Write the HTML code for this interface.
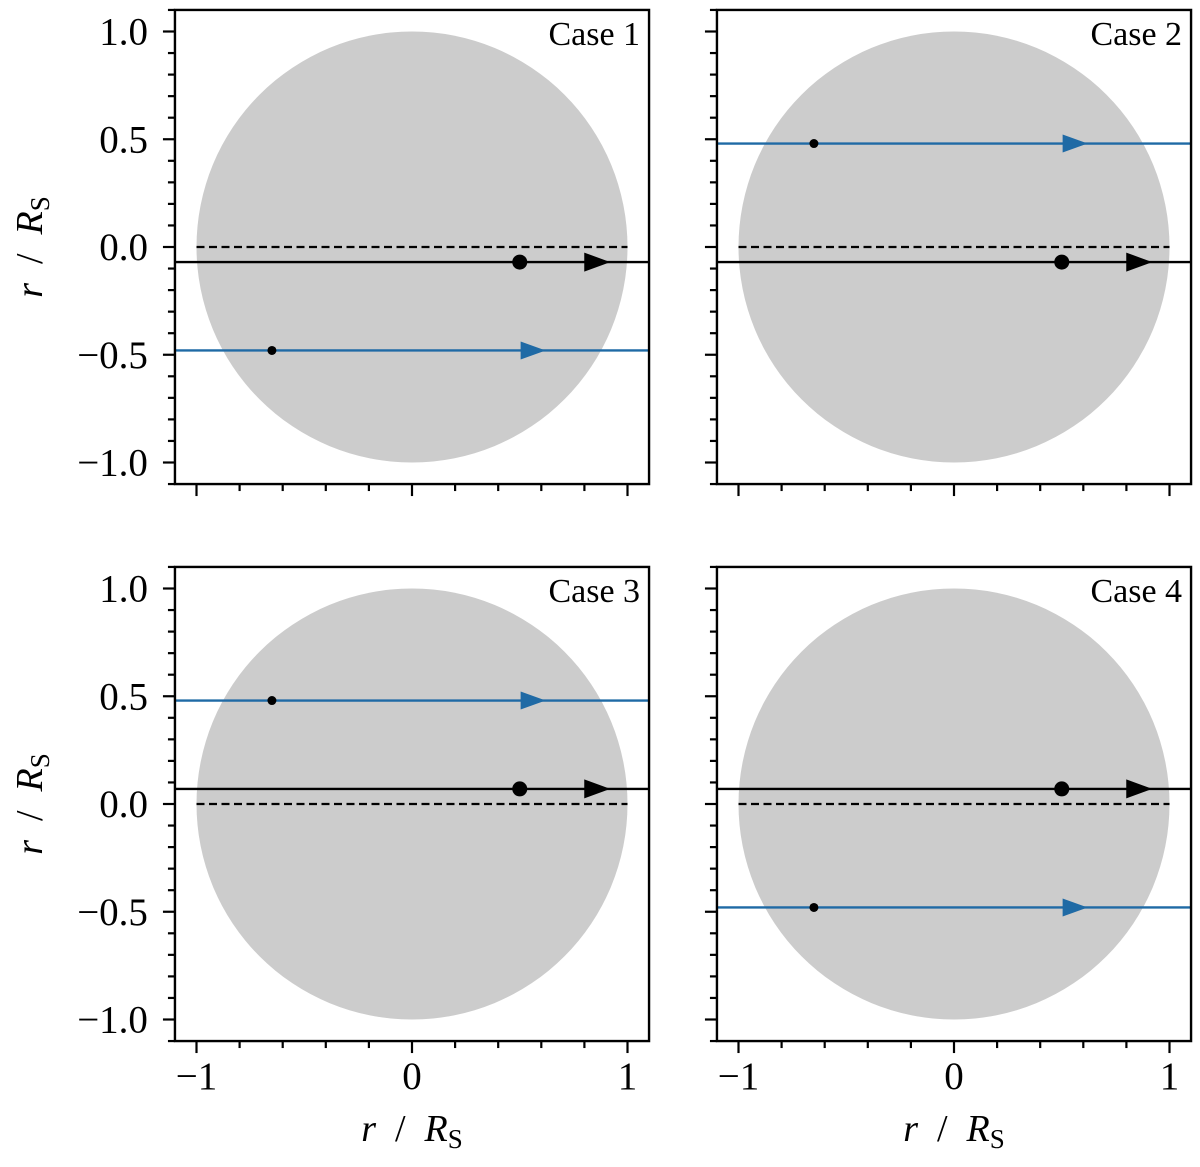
<!DOCTYPE html>
<html><head><meta charset="utf-8"><style>body{margin:0;background:#fff}svg text{font-family:"Liberation Serif",serif;fill:#000}</style></head>
<body>
<svg id="fig" width="1200" height="1162" xmlns="http://www.w3.org/2000/svg"></svg>
<script>
const caseLabels=["Case 1","Case 2","Case 3","Case 4"];
const blackY=[-0.07,-0.07,0.07,0.07];
const blueY=[-0.48,0.48,0.48,-0.48];
const blackDotX=[0.5,0.5,0.5,0.5];
const blueDotX=[-0.65,-0.65,-0.65,-0.65];
const blackArrowX=[0.92,0.92,0.92,0.92];
const blueArrowX=[0.62,0.62,0.62,0.62];
const xTicks=[-1,0,1];
const xTickLabels=["\u22121","0","1"];
const yTicks=[1,0.5,0,-0.5,-1];
const yTickLabels=["1.0","0.5","0.0","\u22120.5","\u22121.0"];
const NS="http://www.w3.org/2000/svg";
const svg=document.getElementById('fig');
function mk(t,a,p){const e=document.createElementNS(NS,t);for(const k in a)e.setAttribute(k,a[k]);(p||svg).appendChild(e);return e;}
const S=215.5;
const origins=[[412,247],[954,247],[412,804],[954,804]];
for(let i=0;i<4;i++){
 const [ox,oy]=origins[i];
 const X=v=>ox+v*S, Y=v=>oy-v*S;
 const g=mk('g',{});
 
 
 const L=X(-1.1),R=X(1.1),T=Y(1.1),B=Y(-1.1);
 const clipId='c'+i;
 const cp=mk('clipPath',{id:clipId},g);mk('rect',{x:L,y:T,width:R-L,height:B-T},cp);
 const inner=mk('g',{'clip-path':'url(#'+clipId+')'},g);
 const c=mk('circle',{cx:X(0),cy:Y(0),r:S,fill:'#cccccc'},inner);
 
 const d=mk('line',{x1:X(-1),x2:X(1),y1:Y(0),y2:Y(0),stroke:'#000','stroke-width':2.2,'stroke-dasharray':'8,4.5'},inner);
 
 const bl=mk('line',{x1:L,x2:R,y1:Y(blueY[i]),y2:Y(blueY[i]),stroke:'#1f6aa5','stroke-width':2.4},inner);
 
 const ba=mk('polygon',{points:`${X(blueArrowX[i])-25},${Y(blueY[i])-9} ${X(blueArrowX[i])},${Y(blueY[i])} ${X(blueArrowX[i])-25},${Y(blueY[i])+9}`,fill:'#1f6aa5'},inner);
 
 const bd=mk('circle',{cx:X(blueDotX[i]),cy:Y(blueY[i]),r:4.5,fill:'#000'},inner);
 
 const kl=mk('line',{x1:L,x2:R,y1:Y(blackY[i]),y2:Y(blackY[i]),stroke:'#000','stroke-width':2.4},inner);
 
 const ka=mk('polygon',{points:`${X(blackArrowX[i])-26},${Y(blackY[i])-9.5} ${X(blackArrowX[i])},${Y(blackY[i])} ${X(blackArrowX[i])-26},${Y(blackY[i])+9.5}`,fill:'#000'},inner);
 
 const kd=mk('circle',{cx:X(blackDotX[i]),cy:Y(blackY[i]),r:7.5,fill:'#000'},inner);
 
 const fr=mk('rect',{x:L,y:T,width:R-L,height:B-T,fill:'none',stroke:'#000','stroke-width':2.4},g);
 
 const t=mk('text',{x:R-9,y:T+35,'font-size':34,'text-anchor':'end'},g);t.textContent=caseLabels[i];
 
 for(let k=-5;k<=5;k++){const v=k*0.2,maj=(k%5===0);mk('line',{x1:X(v),x2:X(v),y1:B,y2:B+(maj?12:7),stroke:'#000','stroke-width':2.2},g);}
 for(let k=-11;k<=11;k++){const v=k*0.1,maj=(k%5===0);mk('line',{x1:L,x2:L-(maj?12:7),y1:Y(v),y2:Y(v),stroke:'#000','stroke-width':2.2},g);}
 if(i%2===0){yTicks.forEach((v,j)=>{const e=mk('text',{x:L-27,y:Y(v)+13,'font-size':39,'text-anchor':'end'},g);e.textContent=yTickLabels[j];
  });
  const yl=mk('text',{x:0,y:0,'font-size':38,'text-anchor':'middle',transform:`translate(42,${Y(0)}) rotate(-90)`},g);
  yl.innerHTML='<tspan font-style="italic">r</tspan>  /  <tspan font-style="italic">R</tspan><tspan font-size="27" dy="7">S</tspan>';
  yl.setAttribute('style','white-space:pre');
  }
 if(i>=2){xTicks.forEach((v,j)=>{const e=mk('text',{x:X(v),y:B+48,'font-size':39,'text-anchor':'middle'},g);e.textContent=xTickLabels[j];
  });
  const xl=mk('text',{x:X(0),y:B+100,'font-size':38,'text-anchor':'middle'},g);
  xl.innerHTML='<tspan font-style="italic">r</tspan>  /  <tspan font-style="italic">R</tspan><tspan font-size="27" dy="7">S</tspan>';
  xl.setAttribute('style','white-space:pre');
  }
}
</script>
</body></html>
